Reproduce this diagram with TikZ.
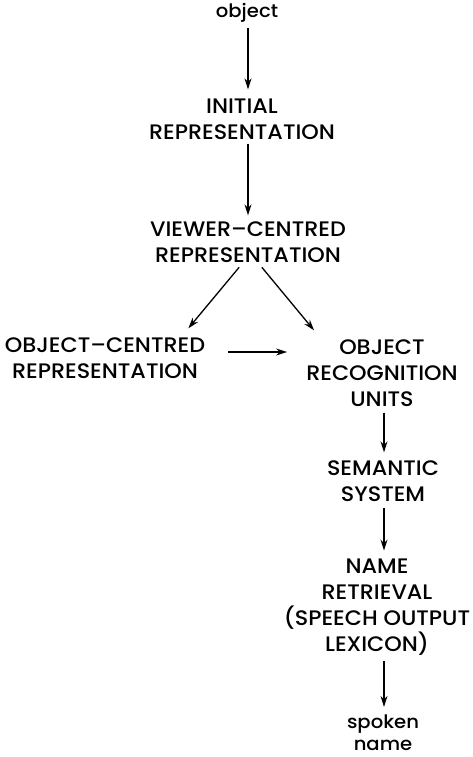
\documentclass[tikz,border=0pt]{standalone}
\usepackage{fontspec}
\setmainfont{Poppins}[UprightFont=* Medium,FakeStretch=1.06]
\usetikzlibrary{arrows.meta}
\begin{document}
\begin{tikzpicture}[x=1pt,y=-1pt,
  stage/.style={align=center,inner sep=0pt,font=\fontsize{21}{26}\selectfont},
  word/.style={align=center,inner sep=0pt,font=\fontsize{18.5}{22}\selectfont},
  flow/.style={-{Stealth[length=11pt,width=7pt]},line width=1.3pt}]
\useasboundingbox[fill=white] (0,0) rectangle (472,757);
\node[word] (obj) at (247,13) {object};
\node[stage] (init) at (242,119) {INITIAL\\REPRESENTATION};
\node[stage] (view) at (248,242) {VIEWER–CENTRED\\REPRESENTATION};
\node[stage] (objc) at (105,358) {OBJECT–CENTRED\\REPRESENTATION};
\node[stage] (oru) at (382,373) {OBJECT\\RECOGNITION\\UNITS};
\node[stage] (sem) at (383,481) {SEMANTIC\\SYSTEM};
\node[stage] (name) at (377,607) {NAME\\RETRIEVAL\\(SPEECH OUTPUT\\LEXICON)};
\node[word] (spk) at (383,733) {spoken\\name};
\draw[flow,shorten <=5pt,shorten >=9pt] (obj.south -| 248,0) -- (init.north -| 248,0);
\draw[flow,shorten <=4pt,shorten >=6pt] (init.south -| 248,0) -- (view.north -| 248,0);
\draw[flow,shorten <=6pt] ([xshift=-5pt]view.south) -- ([shift={(-17,-9)}]objc.north east);
\draw[flow,shorten <=6pt] ([xshift=10pt]view.south) -- ([shift={(8,-9)}]oru.north west);
\draw[flow,shorten <=23pt,shorten >=19pt] (objc.east |- 0,352) -- (oru.west |- 0,352);
\draw[flow,shorten <=6pt,shorten >=8pt] (oru.south -| 384,0) -- (sem.north -| 384,0);
\draw[flow,shorten <=6pt,shorten >=8pt] (sem.south -| 384,0) -- (name.north -| 384,0);
\draw[flow,shorten <=6pt,shorten >=8pt] (name.south -| 384,0) -- (spk.north -| 384,0);
\end{tikzpicture}
\end{document}
